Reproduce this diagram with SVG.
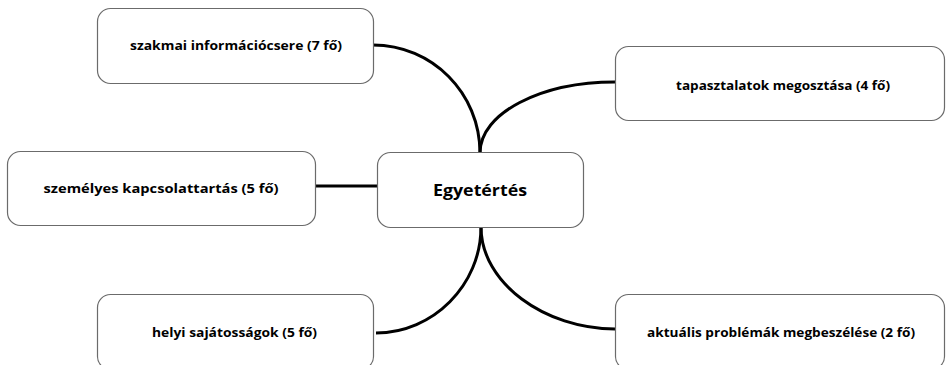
<svg xmlns="http://www.w3.org/2000/svg" width="946" height="365" viewBox="0 0 946 365">
<style>
.box{fill:#fff;stroke:#6b6b6b;stroke-width:1.2}
.lbl{font-family:"Open Sans","Liberation Sans",sans-serif;font-weight:700;font-size:13px;fill:#000;text-anchor:middle}
.main{font-size:16.5px}
.conn{fill:none;stroke:#000;stroke-width:3;stroke-linecap:butt}
</style>
<rect width="946" height="365" fill="#fff"/>
<g id="connectors">
<path class="conn" d="M373,45 C432,45 480,93 480,153"/>
<path class="conn" d="M480,153 C480,113 541,82 615,82"/>
<path class="conn" d="M315,186 L377,186"/>
<path class="conn" d="M481,227 C481,285 433,333 376,333"/>
<path class="conn" d="M481,227 C481,283 545,329 615,329"/>
</g>
<g id="n-szakmai">
<rect class="box" x="97.5" y="8.5" width="276" height="75" rx="13"/>
<text class="lbl" x="236" y="50" textLength="212" lengthAdjust="spacingAndGlyphs">szakmai információcsere (7 fő)</text>
</g>
<g id="n-tapasztalatok">
<rect class="box" x="615.5" y="46.5" width="329" height="74" rx="13"/>
<text class="lbl" x="783" y="90" textLength="214" lengthAdjust="spacingAndGlyphs">tapasztalatok megosztása (4 fő)</text>
</g>
<g id="n-szemelyes">
<rect class="box" x="7.5" y="151.5" width="308" height="74" rx="13"/>
<text class="lbl" x="161" y="193" textLength="235" lengthAdjust="spacingAndGlyphs">személyes kapcsolattartás (5 fő)</text>
</g>
<g id="n-egyetertes">
<rect class="box" x="377.5" y="152.5" width="206" height="75" rx="13"/>
<text class="lbl main" x="480" y="196" textLength="94" lengthAdjust="spacingAndGlyphs">Egyetértés</text>
</g>
<g id="n-helyi">
<rect class="box" x="97.5" y="294.5" width="276" height="75" rx="13"/>
<text class="lbl" x="234.5" y="337" textLength="165" lengthAdjust="spacingAndGlyphs">helyi sajátosságok (5 fő)</text>
</g>
<g id="n-aktualis">
<rect class="box" x="615.5" y="294.5" width="329" height="75" rx="13"/>
<text class="lbl" x="781" y="337" textLength="268" lengthAdjust="spacingAndGlyphs">aktuális problémák megbeszélése (2 fő)</text>
</g>
</svg>
